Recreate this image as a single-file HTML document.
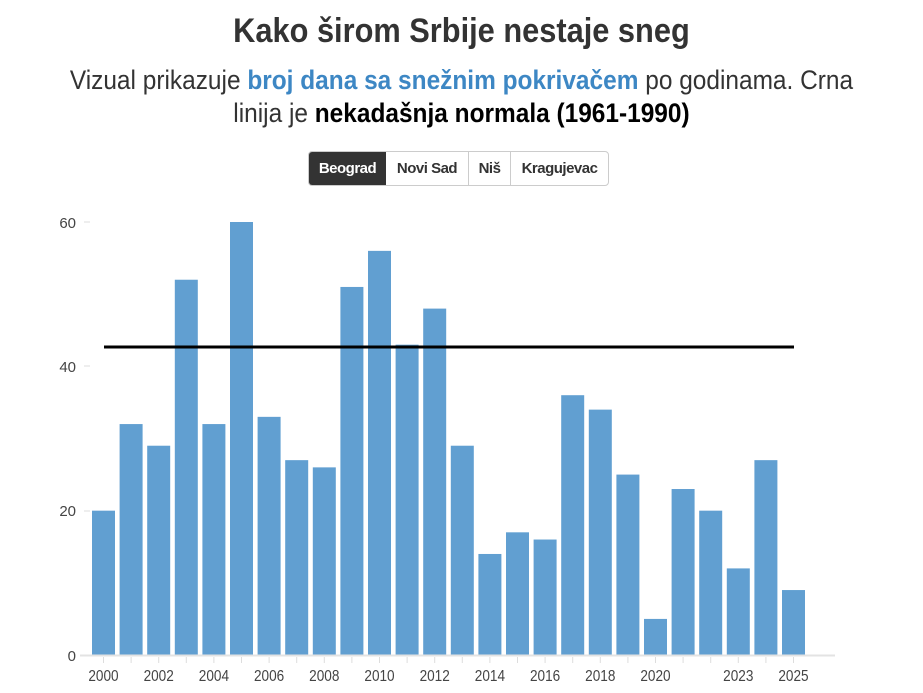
<!DOCTYPE html>
<html><head><meta charset="utf-8"><style>
body{margin:0;background:#fff;width:923px;height:693px;overflow:hidden;font-family:"Liberation Sans",sans-serif;}
.t{position:absolute;left:0;width:923px;text-align:center;color:#333;transform:scaleX(0.905);transform-origin:461px 0;}
</style></head><body>
<div class="t" style="top:12px;font-size:34px;font-weight:bold;color:#333;">Kako širom Srbije nestaje sneg</div>
<div class="t" style="top:64px;font-size:27px;line-height:33px;color:#333;">Vizual prikazuje <b style="color:#3d87c4">broj dana sa snežnim pokrivačem</b> po godinama. Crna<br>linija je <b style="color:#000">nekadašnja normala (1961-1990)</b></div>
<div style="position:absolute;left:308px;top:151px;height:33px;display:flex;border:1px solid #ccc;border-radius:4px;overflow:hidden;font-size:15px;font-weight:bold;color:#333;letter-spacing:-0.5px">
<div style="background:#333;color:#fff;width:77px;text-align:center;line-height:33px">Beograd</div>
<div style="width:82px;text-align:center;line-height:33px;border-right:1px solid #ccc">Novi Sad</div>
<div style="width:41px;text-align:center;line-height:33px;border-right:1px solid #ccc">Niš</div>
<div style="width:97px;text-align:center;line-height:33px">Kragujevac</div>
</div>
<svg width="923" height="693" style="position:absolute;left:0;top:0" font-family="Liberation Sans, sans-serif">
<g font-size="15" fill="#444" text-anchor="end">
<text x="76" y="228">60</text><line x1="84" x2="90" y1="222" y2="222" stroke="#ddd"/>
<text x="76" y="372">40</text><line x1="84" x2="90" y1="366" y2="366" stroke="#ddd"/>
<text x="76" y="516">20</text><line x1="84" x2="90" y1="511" y2="511" stroke="#ddd"/>
<text x="76" y="661">0</text>
</g>
<g id="bars" fill="#619fd1"></g>
<line x1="80" x2="835" y1="655.5" y2="655.5" stroke="#e3e3e3" stroke-width="2"/>
<g id="ticks" stroke="#ddd"></g>
<g id="labels" font-size="16" fill="#444" text-anchor="middle"></g>
<line x1="104" x2="794" y1="347" y2="347" stroke="#000" stroke-width="3"/>
</svg>
<script>
var v=[20,32,29,52,32,60,33,27,26,51,56,43,48,29,14,17,16,36,34,25,5,23,20,12,27,9];
var b='',t='',l='';
for(var i=0;i<v.length;i++){var c=103.5+i*27.6,h=v[i]*433/60;
b+='<rect x="'+(c-11.5)+'" y="'+(655-h)+'" width="23" height="'+h+'"/>';
t+='<line x1="'+c+'" x2="'+c+'" y1="657" y2="663"/>';
var y=2000+i;if((y<=2020&&y%2==0)||y==2023||y==2025)l+='<text x="'+c+'" y="681" transform="translate('+c+',0) scale(0.85,1) translate('+(-c)+',0)">'+y+'</text>';}
document.getElementById('bars').innerHTML=b;document.getElementById('ticks').innerHTML=t;document.getElementById('labels').innerHTML=l;
</script>
</body></html>
